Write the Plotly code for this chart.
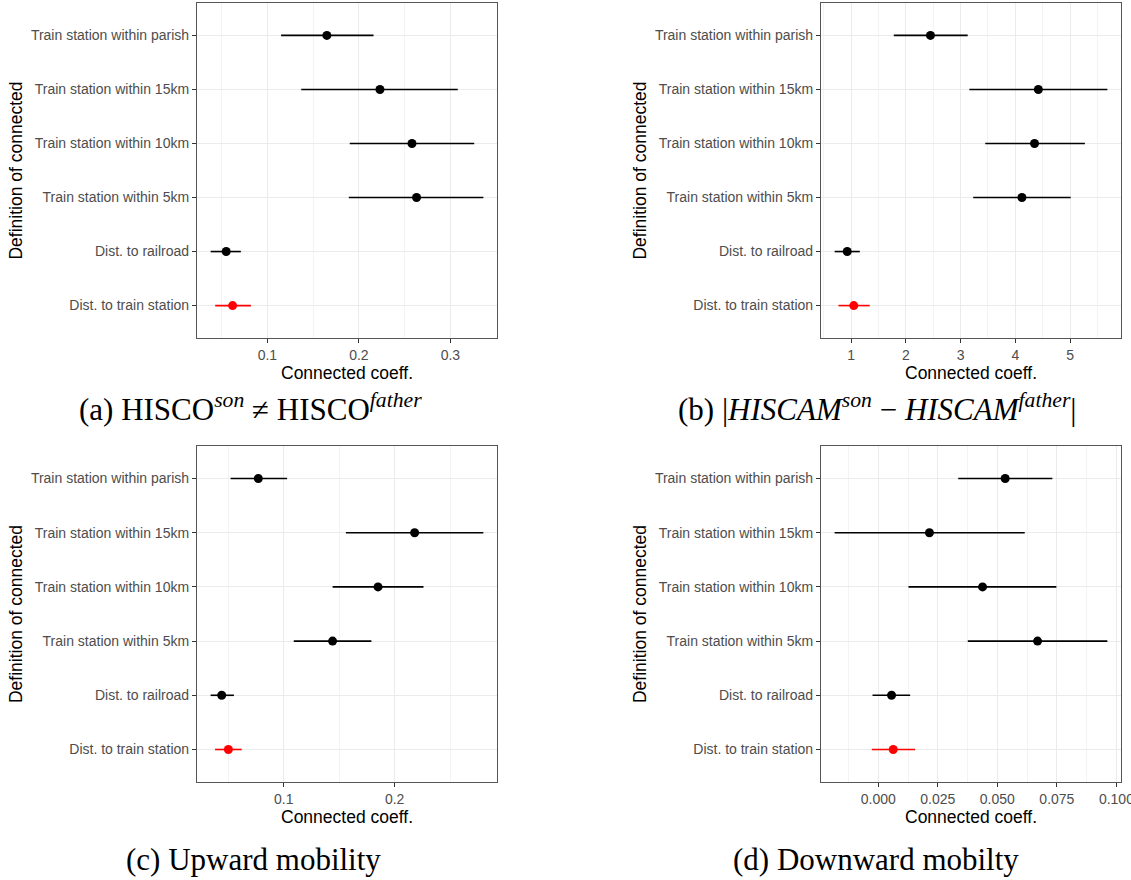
import plotly.graph_objects as go

# ---------------- data ----------------
categories = [
    "Train station within parish",
    "Train station within 15km",
    "Train station within 10km",
    "Train station within 5km",
    "Dist. to railroad",
    "Dist. to train station",
]
highlight = "Dist. to train station"

a_coef = [0.165, 0.223, 0.258, 0.263, 0.055, 0.062]
a_lo = [0.115, 0.137, 0.190, 0.189, 0.038, 0.043]
a_hi = [0.216, 0.308, 0.326, 0.336, 0.071, 0.082]

b_coef = [2.45, 4.42, 4.35, 4.12, 0.93, 1.05]
b_lo = [1.78, 3.16, 3.45, 3.23, 0.70, 0.77]
b_hi = [3.13, 5.68, 5.27, 5.01, 1.16, 1.34]

c_coef = [0.077, 0.218, 0.185, 0.144, 0.044, 0.050]
c_lo = [0.052, 0.156, 0.144, 0.109, 0.034, 0.038]
c_hi = [0.103, 0.280, 0.226, 0.179, 0.055, 0.062]

d_coef = [0.0533, 0.0215, 0.0438, 0.0669, 0.0056, 0.0063]
d_lo = [0.0336, -0.0183, 0.0127, 0.0376, -0.0024, -0.0027]
d_hi = [0.0731, 0.0615, 0.0748, 0.0962, 0.0134, 0.0155]

x_dticks = [0.1, 1, 0.1, 0.025]
x_formats = ["", "", "", ".3f"]
captions = [
    "(a) HISCO<sup><i>son</i></sup> \u2260 HISCO<sup><i>father</i></sup>",
    "(b) |<i>HISCAM</i><sup><i>son</i></sup> \u2212 <i>HISCAM</i><sup><i>father</i></sup>|",
    "(c) Upward mobility",
    "(d) Downward mobilty",
]

# ---------------- layout geometry ----------------
W, H = 1131, 880
x_doms = [(197 / W, 497 / W), (821 / W, 1121 / W)]
y_doms = [(1 - 338 / H, 1 - 3 / H), (1 - 782 / H, 1 - 446 / H)]
caption_xy = [(250, 407), (877, 407), (253, 859), (876, 859)]

SANS = "Liberation Sans, Arial, sans-serif"
SERIF = "Liberation Serif, Times New Roman, serif"
TICK_COL = "#4D4D4D"
GRID = "#EBEBEB"

series = [(a_coef, a_lo, a_hi), (b_coef, b_lo, b_hi), (c_coef, c_lo, c_hi), (d_coef, d_lo, d_hi)]

fig = go.Figure()
layout = dict(
    width=W, height=H,
    margin=dict(l=0, r=0, t=0, b=0),
    paper_bgcolor="white", plot_bgcolor="white",
    showlegend=False,
    font=dict(family=SANS, color="black"),
)

annotations = []
for i, (coef, lo, hi) in enumerate(series):
    s = "" if i == 0 else str(i + 1)
    col, row = i % 2, i // 2
    for is_hl, color in [(False, "black"), (True, "#FF0000")]:
        idx = [j for j, c in enumerate(categories) if (c == highlight) == is_hl]
        fig.add_trace(go.Scatter(
            x=[coef[j] for j in idx],
            y=[categories[j] for j in idx],
            mode="markers",
            marker=dict(color=color, size=9, line=dict(width=0)),
            error_x=dict(
                type="data", symmetric=False,
                array=[hi[j] - coef[j] for j in idx],
                arrayminus=[coef[j] - lo[j] for j in idx],
                width=0, thickness=1.6, color=color,
            ),
            xaxis="x" + s, yaxis="y" + s,
            hoverinfo="skip",
        ))
    lo_all, hi_all = min(lo), max(hi)
    pad = (hi_all - lo_all) * 0.05
    dt = x_dticks[i]
    layout["xaxis" + s] = dict(
        domain=list(x_doms[col]), anchor="y" + s,
        range=[lo_all - pad, hi_all + pad],
        tick0=0, dtick=dt, tickformat=x_formats[i],
        ticklabeloverflow="allow",
        showgrid=True, gridcolor=GRID, gridwidth=1,
        minor=dict(tick0=0, dtick=dt / 2, showgrid=True, gridcolor="#F3F3F3", gridwidth=0.6, ticks=""),
        zeroline=False,
        showline=True, mirror=True, linecolor="#555555", linewidth=1.2,
        ticks="outside", ticklen=4, tickcolor="#333333", tickwidth=1,
        tickfont=dict(family=SANS, size=14, color=TICK_COL),
        title=dict(text="Connected coeff.", font=dict(family=SANS, size=17.5, color="black"), standoff=1),
        automargin=False,
    )
    layout["yaxis" + s] = dict(
        domain=list(y_doms[row]), anchor="x" + s,
        type="category", categoryorder="array", categoryarray=list(reversed(categories)),
        range=[-0.6, len(categories) - 0.4],
        showgrid=True, gridcolor=GRID, gridwidth=1,
        zeroline=False,
        showline=True, mirror=True, linecolor="#555555", linewidth=1.2,
        ticks="outside", ticklen=4, tickcolor="#333333", tickwidth=1,
        tickfont=dict(family=SANS, size=14, color=TICK_COL),
        title=dict(text="Definition of connected", font=dict(family=SANS, size=17.5, color="black"), standoff=3),
        automargin=False,
    )
    cx, cy = caption_xy[i]
    annotations.append(dict(
        text=captions[i], x=cx / W, y=1 - cy / H, xref="paper", yref="paper",
        xanchor="center", yanchor="middle", showarrow=False,
        font=dict(family=SERIF, size=31, color="black"),
    ))

layout["annotations"] = annotations
fig.update_layout(**layout)
fig.write_html("out.html")
